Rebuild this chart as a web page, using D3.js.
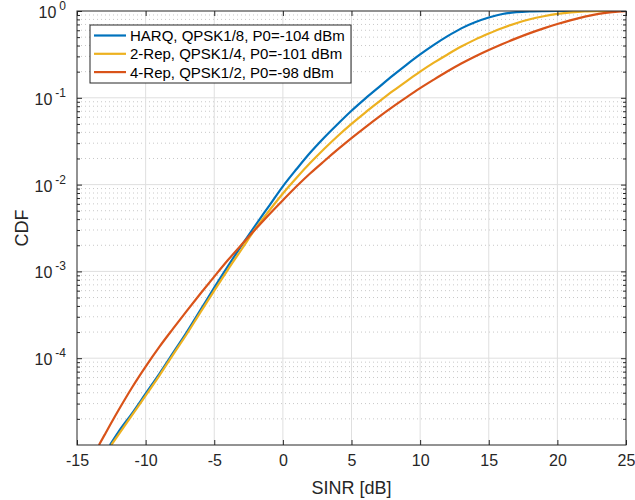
<!DOCTYPE html>
<html>
<head>
<meta charset="utf-8">
<script src="https://cdn.jsdelivr.net/npm/d3@7"></script>
<style>
    html, body { margin: 0; padding: 0; background: #fff; }
    svg { display: block; font-family: "Liberation Sans", Arial, sans-serif; }
</style>
</head>
<body>
<div id="chart"></div>
<script>
// ============================================
// CDF of SINR - three repetition schemes
// ============================================

const xTicks = [-15, -10, -5, 0, 5, 10, 15, 20, 25];
const yTicks = [1e-4, 1e-3, 1e-2, 1e-1, 1];
const yTickExp = ['-4', '-3', '-2', '-1', '0'];

const seriesNames = [
    'HARQ, QPSK1/8, P0=-104 dBm',
    '2-Rep, QPSK1/4, P0=-101 dBm',
    '4-Rep, QPSK1/2, P0=-98 dBm'
];
const seriesColors = ['#0072BD', '#EDB120', '#D95319'];

const harqSinr = [-12.6, -12, -11, -10, -9, -8, -7, -6, -5, -4, -3, -2, -1, 0, 1, 2, 3, 4, 5, 6, 7, 8, 9, 10,
    11, 12, 13, 14, 15, 16, 17, 18, 19, 20, 22, 25];
const harqCdf = [1.0e-5, 1.4e-5, 2.3e-5, 3.9e-5, 6.6e-5, 1.15e-4, 2.0e-4, 3.6e-4, 6.5e-4, 1.15e-3, 2.0e-3, 3.4e-3,
    5.7e-3, 9.55e-3, 1.51e-2, 2.34e-2, 3.47e-2, 5.0e-2, 7.1e-2, 9.8e-2, 0.133, 0.18, 0.24, 0.316,
    0.407, 0.513, 0.631, 0.741, 0.841, 0.923, 0.970, 0.991, 0.998, 1, 1, 1];

const rep2Sinr = [-12.5, -12, -11, -10, -9, -8, -7, -6, -5, -4, -3, -2, -1, 0, 1, 2, 3, 4, 5, 6, 7, 8, 9, 10,
    11, 12, 13, 14, 15, 16, 17, 18, 19, 20, 21, 22, 23, 24, 25];
const rep2Cdf = [1.0e-5, 1.3e-5, 2.2e-5, 3.7e-5, 6.3e-5, 1.1e-4, 1.9e-4, 3.4e-4, 6.0e-4, 1.05e-3, 1.8e-3, 3.1e-3,
    5.0e-3, 7.9e-3, 1.2e-2, 1.78e-2, 2.57e-2, 3.63e-2, 5.0e-2, 6.76e-2, 9.0e-2, 0.119, 0.155, 0.20,
    0.254, 0.316, 0.389, 0.468, 0.55, 0.638, 0.724, 0.804, 0.871, 0.927, 0.966, 0.989, 0.997, 1, 1];

const rep4Sinr = [-13.4, -13, -12, -11, -10, -9, -8, -7, -6, -5, -4, -3, -2, -1, 0, 1, 2, 3, 4, 5, 6, 7, 8, 9, 10,
    11, 12, 13, 14, 15, 16, 17, 18, 19, 20, 21, 22, 23, 24, 25];
const rep4Cdf = [1.0e-5, 1.30e-5, 2.48e-5, 4.57e-5, 8.0e-5, 1.35e-4, 2.19e-4, 3.51e-4, 5.56e-4, 8.7e-4, 1.35e-3, 2.04e-3,
    3.05e-3, 4.52e-3, 6.6e-3, 9.55e-3, 1.35e-2, 1.86e-2, 2.54e-2, 3.43e-2, 4.57e-2, 6.03e-2, 7.85e-2, 0.101, 0.129,
    0.162, 0.202, 0.248, 0.299, 0.355, 0.417, 0.484, 0.556, 0.631, 0.708, 0.785, 0.861, 0.927, 0.973, 0.995];

const width = 635;
const height = 500;
const margin = { top: 11, right: 9, bottom: 55, left: 77 };
const axisColor = '#262626';

const x = d3.scaleLinear().domain([-15, 25]).range([margin.left, width - margin.right]);
const y = d3.scaleLog().domain([1e-5, 1]).range([height - margin.bottom, margin.top]);

const svg = d3.select('#chart')
    .append('svg')
    .attr('width', width)
    .attr('height', height);

// minor ticks 2..9 in every decade
const minorTicks = [];
for (let e = -5; e < 0; e++) {
    for (let m = 2; m <= 9; m++) minorTicks.push(m * Math.pow(10, e));
}

// Grid
const grid = svg.append('g');
grid.selectAll('line.minor')
    .data(minorTicks)
    .join('line')
    .attr('x1', x.range()[0]).attr('x2', x.range()[1])
    .attr('y1', d => y(d)).attr('y2', d => y(d))
    .attr('stroke', '#c8c8c8')
    .attr('stroke-dasharray', '1,3');
grid.selectAll('line.vx')
    .data(xTicks.slice(1, -1))
    .join('line')
    .attr('x1', d => x(d)).attr('x2', d => x(d))
    .attr('y1', y.range()[0]).attr('y2', y.range()[1])
    .attr('stroke', '#dfdfdf');
grid.selectAll('line.hy')
    .data(yTicks.slice(0, -1))
    .join('line')
    .attr('class', 'hy')
    .attr('x1', x.range()[0]).attr('x2', x.range()[1])
    .attr('y1', d => y(d)).attr('y2', d => y(d))
    .attr('stroke', '#dfdfdf');

// Curves
svg.append('clipPath').attr('id', 'plot-clip')
    .append('rect')
    .attr('x', x.range()[0]).attr('y', y.range()[1])
    .attr('width', x.range()[1] - x.range()[0])
    .attr('height', y.range()[0] - y.range()[1]);

const line = d3.line()
    .x(d => x(d[0]))
    .y(d => y(d[1]))
    .curve(d3.curveMonotoneX);

const series = [
    d3.zip(harqSinr, harqCdf),
    d3.zip(rep2Sinr, rep2Cdf),
    d3.zip(rep4Sinr, rep4Cdf)
];

svg.append('g')
    .attr('clip-path', 'url(#plot-clip)')
    .selectAll('path')
    .data(series)
    .join('path')
    .attr('d', line)
    .attr('fill', 'none')
    .attr('stroke', (d, i) => seriesColors[i])
    .attr('stroke-width', 2.2)
    .attr('stroke-linejoin', 'round');

// Axes
function styleAxis(g) {
    g.select('.domain').remove();
    g.selectAll('.tick line').attr('stroke', axisColor);
    g.selectAll('.tick text')
        .attr('fill', axisColor)
        .style('font-size', '16px')
        .style('font-family', '"Liberation Sans", Arial, sans-serif');
}

svg.append('g')
    .attr('transform', `translate(0,${y.range()[0]})`)
    .call(d3.axisBottom(x).tickValues(xTicks).tickSize(-5).tickPadding(10)
        .tickFormat(d => d3.format('d')(d).replace('−', '-')))
    .call(styleAxis);

svg.append('g')
    .attr('transform', `translate(0,${y.range()[1]})`)
    .call(d3.axisTop(x).tickValues(xTicks).tickSize(-5).tickFormat(''))
    .call(styleAxis);

[[d3.axisLeft, x.range()[0]], [d3.axisRight, x.range()[1]]].forEach(([axisFn, pos]) => {
    svg.append('g')
        .attr('transform', `translate(${pos},0)`)
        .call(axisFn(y).tickValues(yTicks).tickSize(-5).tickFormat(''))
        .call(styleAxis);
    svg.append('g')
        .attr('transform', `translate(${pos},0)`)
        .call(axisFn(y).tickValues(minorTicks).tickSize(-3).tickFormat(''))
        .call(styleAxis);
});

// Y tick labels 10^n
const yLab = svg.append('g')
    .selectAll('text')
    .data(yTicks)
    .join('text')
    .attr('x', x.range()[0] - 11)
    .attr('y', d => y(d) + 7)
    .attr('text-anchor', 'end')
    .attr('fill', axisColor)
    .style('font-size', '16px');
yLab.append('tspan').text('10');
yLab.append('tspan')
    .attr('dx', 3)
    .attr('dy', -8)
    .style('font-size', '12px')
    .text((d, i) => yTickExp[i]);

// Box
svg.append('rect')
    .attr('x', x.range()[0]).attr('y', y.range()[1])
    .attr('width', x.range()[1] - x.range()[0])
    .attr('height', y.range()[0] - y.range()[1])
    .attr('fill', 'none')
    .attr('stroke', axisColor);

// Axis labels
svg.append('text')
    .attr('x', (x.range()[0] + x.range()[1]) / 2)
    .attr('y', 494)
    .attr('text-anchor', 'middle')
    .attr('fill', axisColor)
    .style('font-size', '18px')
    .text('SINR [dB]');

svg.append('text')
    .attr('transform', `translate(28,${(y.range()[0] + y.range()[1]) / 2}) rotate(-90)`)
    .attr('text-anchor', 'middle')
    .attr('fill', axisColor)
    .style('font-size', '18px')
    .text('CDF');

// Legend
const legend = svg.append('g').attr('transform', 'translate(90,25)');
legend.append('rect')
    .attr('width', 261).attr('height', 58)
    .attr('fill', '#fff')
    .attr('stroke', axisColor);

const rows = legend.selectAll('g')
    .data(seriesNames)
    .join('g')
    .attr('transform', (d, i) => `translate(0,${10.5 + i * 18.3})`);
rows.append('line')
    .attr('x1', 4).attr('x2', 36)
    .attr('stroke', (d, i) => seriesColors[i])
    .attr('stroke-width', 2.2);
rows.append('text')
    .attr('x', 40)
    .attr('y', 5.5)
    .attr('fill', '#000')
    .style('font-size', '15px')
    .text(d => d);
</script>
</body>
</html>
